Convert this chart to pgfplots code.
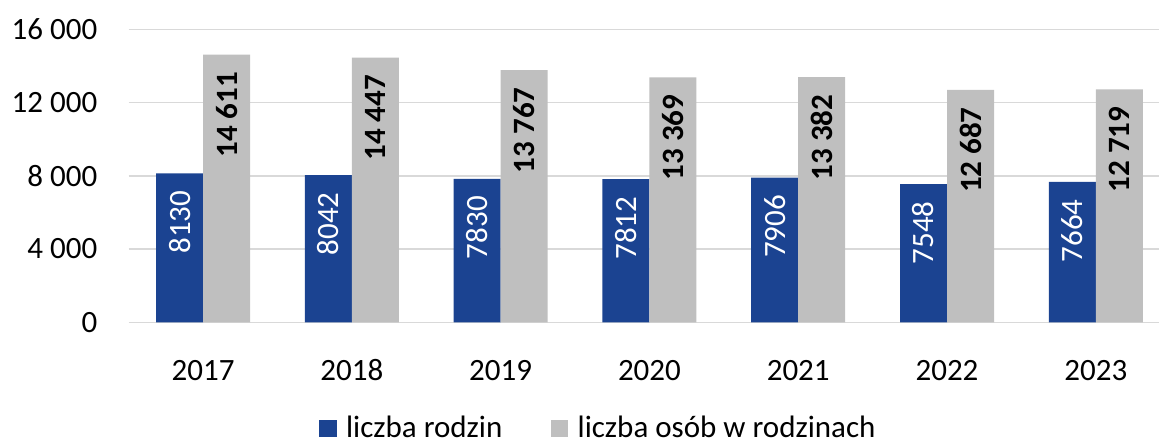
\documentclass[border=0pt]{standalone}
\usepackage{fontspec}
\setmainfont{Carlito}
\usepackage{pgfplots}
\pgfplotsset{compat=1.18}
\definecolor{barblue}{RGB}{27,67,145}
\definecolor{bargray}{RGB}{191,191,191}
\definecolor{gridgray}{RGB}{217,217,217}
\newcommand\fs{\fontsize{15.5}{18}\selectfont}
\begin{document}
\begin{tikzpicture}
\useasboundingbox (-64.35pt,-58.35pt) rectangle (515.2pt,161.15pt);
\begin{axis}[
 at={(0,0)}, anchor=south west,
 scale only axis, width=515.2pt, height=146.5pt,
 xmin=-0.5, xmax=6.425, ymin=0, ymax=16000,
 scaled y ticks=false,
 ybar=0pt, bar width=23.5pt,
 xtick={0,1,2,3,4,5,6},
 xticklabels={2017,2018,2019,2020,2021,2022,2023},
 ytick={0,4000,8000,12000,16000},
 yticklabels={0,4 000,8 000,12 000,16 000},
 ymajorgrids, grid style={gridgray, line width=0.75pt},
 axis line style={draw=none},
 major tick style={draw=none},
 tick label style={font=\fs},
 yticklabel style={anchor=east, inner sep=0pt, xshift=-15.5pt},
 xticklabel style={anchor=base, inner sep=0pt, yshift=-25pt},
 legend columns=2,
 legend style={draw=none, fill=none, at={(0.1847,-0.362)}, anchor=west,
   inner sep=0pt, font=\fs, nodes={inner sep=0pt},
   /tikz/every odd column/.append style={column sep=4.65pt},
   /tikz/every even column/.append style={column sep=24.3pt}},
 legend image code/.code={\fill[#1] (0pt,-4.4pt) rectangle (8.7pt,4.4pt);},
 point meta=explicit symbolic,
 nodes near coords={\pgfplotspointmeta},
 nodes near coords style={rotate=90, anchor=east, inner xsep=8.5pt, inner ysep=0pt, font=\fs},
]
\addplot[fill=barblue, draw=none, nodes near coords style={text=white}]
 coordinates {(0,8130)[8130] (1,8042)[8042] (2,7830)[7830] (3,7812)[7812] (4,7906)[7906] (5,7548)[7548] (6,7664)[7664]};
\addplot[fill=bargray, draw=none, nodes near coords style={text=black, font=\fs\bfseries}]
 coordinates {(0,14611)[14 611] (1,14447)[14 447] (2,13767)[13 767] (3,13369)[13 369] (4,13382)[13 382] (5,12687)[12 687] (6,12719)[12 719]};
\legend{liczba rodzin, liczba osób w rodzinach}
\end{axis}
\end{tikzpicture}
\end{document}
